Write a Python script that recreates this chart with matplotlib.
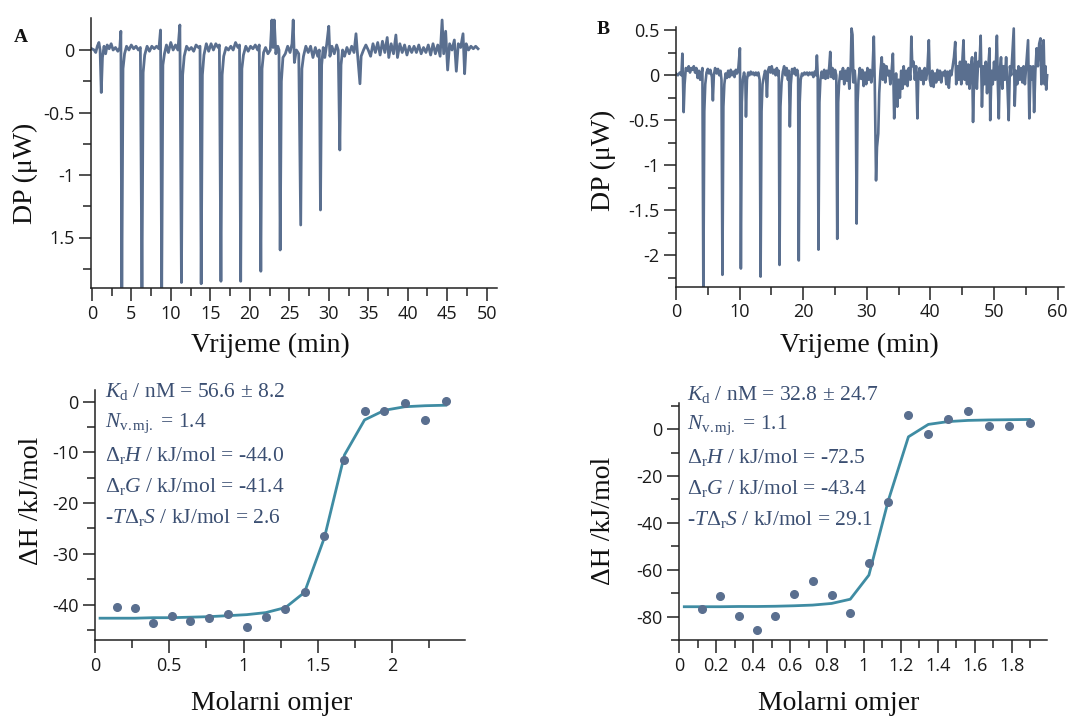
## ITC figure: raw thermograms (top) and integrated heats with fit (bottom)

import numpy as np
import matplotlib
matplotlib.use('Agg')
import matplotlib.pyplot as plt
from matplotlib.ticker import MultipleLocator

plt.rcParams['font.family'] = ['Open Sans', 'DejaVu Sans']
plt.rcParams['axes.unicode_minus'] = False
plt.rcParams['mathtext.fontset'] = 'custom'
plt.rcParams['mathtext.rm'] = 'Liberation Serif'
plt.rcParams['mathtext.it'] = 'Liberation Serif:italic'
plt.rcParams['mathtext.bf'] = 'Liberation Serif:bold'

## raw trace A (time in min, DP in uW)
trace_a = [
    (0.0, 0.01), (0.3, 0.0), (0.5, -0.02), (0.7, 0.03), (0.9, 0.06), (1.05, 0.0), (1.2, -0.34),
    (1.35, -0.06), (1.55, 0.03), (1.75, -0.03), (1.95, 0.04), (2.2, 0.01), (2.45, 0.05), (2.7, 0.0),
    (3.0, 0.02), (3.3, -0.01), (3.55, 0.02), (3.68, 0.15),
    (3.8, -1.95), (3.95, -0.15), (4.15, -0.03), (4.4, 0.03), (4.7, 0.0), (5.0, 0.04), (5.3, 0.01),
    (5.6, 0.03), (5.9, 0.0), (6.15, 0.02),
    (6.35, -1.95), (6.5, -0.18), (6.7, -0.04), (7.0, 0.03), (7.3, -0.01), (7.6, 0.03), (7.9, 0.01),
    (8.2, 0.03), (8.5, 0.01), (8.7, 0.16),
    (8.85, -1.95), (9.0, -0.12), (9.2, -0.03), (9.45, 0.04), (9.7, -0.02), (10.0, 0.06), (10.3, 0.0),
    (10.6, 0.04), (10.9, 0.0), (11.15, 0.2),
    (11.35, -1.86), (11.5, -0.2), (11.7, -0.05), (12.0, 0.03), (12.3, 0.0), (12.6, 0.02), (12.9, -0.01),
    (13.2, 0.04), (13.5, 0.02), (13.7, 0.03),
    (13.85, -1.87), (14.0, -0.2), (14.2, -0.04), (14.5, 0.05), (14.8, -0.01), (15.1, 0.05), (15.4, 0.0),
    (15.7, 0.05), (16.0, 0.02), (16.15, 0.04),
    (16.35, -1.85), (16.5, -0.2), (16.7, -0.05), (17.0, 0.02), (17.3, 0.0), (17.6, 0.03), (17.9, 0.0),
    (18.2, 0.06), (18.5, 0.02), (18.7, 0.04),
    (18.85, -1.85), (19.0, -0.15), (19.2, -0.04), (19.5, 0.03), (19.8, -0.01), (20.1, 0.03), (20.4, 0.01),
    (20.7, 0.04), (21.0, 0.0), (21.2, 0.04),
    (21.4, -1.77), (21.55, -0.15), (21.75, -0.02), (22.0, 0.02), (22.3, -0.03), (22.6, 0.0), (22.8, 0.24),
    (22.95, 0.02), (23.1, 0.24), (23.3, -0.03), (23.55, 0.03), (23.7, 0.0),
    (23.85, -1.6), (24.0, -0.25), (24.2, -0.06), (24.5, -0.03), (24.8, 0.03), (25.1, -0.02), (25.35, 0.05),
    (25.5, 0.24), (25.65, -0.1), (25.9, 0.0), (26.2, -0.03),
    (26.45, -1.4), (26.6, -0.15), (26.8, -0.05), (27.1, 0.03), (27.4, -0.02), (27.7, 0.03), (28.0, -0.06),
    (28.3, 0.02), (28.6, -0.05), (28.8, 0.0),
    (28.95, -1.28), (29.1, -0.12), (29.3, 0.02), (29.5, -0.06), (29.75, 0.05), (30.0, 0.19), (30.15, -0.05),
    (30.4, 0.03), (30.7, -0.03), (31.0, 0.04), (31.2, 0.0),
    (31.4, -0.8), (31.55, -0.12), (31.75, 0.0), (32.0, -0.05), (32.3, 0.02), (32.6, -0.03), (32.9, 0.03),
    (33.2, -0.02), (33.45, 0.13), (33.6, 0.0),
    (33.95, -0.27), (34.1, -0.05), (34.4, 0.0), (34.7, 0.04), (35.0, 0.0), (35.3, -0.05), (35.6, 0.05),
    (35.9, -0.02), (36.2, 0.06), (36.5, -0.04), (36.8, 0.07), (37.1, -0.02), (37.4, 0.1), (37.6, -0.06),
    (37.9, 0.05), (38.2, -0.03), (38.5, 0.12), (38.7, -0.06), (39.0, 0.05), (39.3, -0.02), (39.6, 0.04),
    (39.9, -0.04), (40.2, 0.03), (40.5, -0.02), (40.8, 0.03), (41.1, -0.02), (41.4, 0.04), (41.7, -0.03),
    (42.0, 0.02), (42.3, -0.02), (42.6, 0.04), (42.9, -0.04), (43.2, 0.05), (43.5, -0.03), (43.8, 0.04),
    (44.1, -0.05), (44.35, 0.24), (44.55, -0.03), (44.8, 0.15), (45.05, -0.16), (45.3, 0.05), (45.6, 0.0),
    (45.9, 0.08), (46.15, -0.17), (46.4, 0.05), (46.7, 0.02), (47.0, 0.13), (47.2, -0.19), (47.4, 0.05),
    (47.7, 0.0), (48.0, 0.03), (48.3, 0.01), (48.6, 0.03), (48.9, 0.01),
]

## raw trace B
trace_b = [
    (0.0, 0.02), (0.3, 0.0), (0.6, 0.03), (0.85, 0.0), (1.0, 0.24), (1.1, -0.05), (1.2, -0.41),
    (1.35, -0.1), (1.55, 0.08), (1.8, 0.05), (2.0, 0.1), (2.2, 0.03), (2.4, 0.08), (2.6, 0.06),
    (2.8, 0.1), (3.0, 0.03), (3.2, 0.08), (3.4, -0.03), (3.6, 0.05), (3.8, -0.05), (4.0, 0.02), (4.15, 0.08),
    (4.3, -2.4), (4.45, -0.4), (4.6, -0.1), (4.8, 0.03), (5.0, 0.07), (5.2, 0.02), (5.4, 0.06),
    (5.65, -0.02), (5.8, -0.28), (5.95, 0.0), (6.15, 0.08), (6.4, 0.02), (6.6, 0.07), (6.8, 0.0),
    (7.0, 0.05), (7.15, -0.05),
    (7.3, -2.22), (7.45, -0.35), (7.6, -0.1), (7.8, 0.02), (8.0, -0.03), (8.2, 0.05), (8.4, -0.02),
    (8.6, 0.06), (8.8, 0.0), (9.0, 0.04), (9.2, -0.02), (9.4, 0.06), (9.6, 0.02), (9.8, 0.08), (10.05, 0.3),
    (10.2, -2.15), (10.35, -0.3), (10.5, -0.05), (10.7, 0.03), (10.9, -0.05), (11.0, -0.46), (11.15, -0.05),
    (11.35, 0.03), (11.55, 0.0), (11.75, 0.04), (11.95, 0.01), (12.15, 0.03), (12.35, 0.0), (12.55, 0.03),
    (12.75, 0.0), (12.95, 0.03), (13.15, -0.05),
    (13.3, -2.24), (13.45, -0.4), (13.6, -0.1), (13.8, -0.02), (14.0, 0.05), (14.15, 0.0), (14.3, -0.24),
    (14.45, 0.05), (14.65, 0.09), (14.85, 0.03), (15.05, 0.1), (15.25, 0.02), (15.45, 0.06), (15.65, 0.0),
    (15.85, 0.08), (16.05, 0.0), (16.15, 0.05),
    (16.28, -2.11), (16.42, -0.35), (16.6, -0.08), (16.8, 0.04), (17.0, 0.1), (17.2, 0.0), (17.4, 0.08),
    (17.6, -0.05), (17.75, 0.05), (17.9, -0.57), (18.05, -0.1), (18.25, 0.07), (18.45, 0.02), (18.65, 0.08),
    (18.85, 0.0), (19.05, 0.06), (19.2, 0.0),
    (19.3, -2.06), (19.45, -0.3), (19.6, -0.05), (19.8, 0.02), (20.0, 0.0), (20.2, 0.03), (20.4, 0.01),
    (20.6, 0.03), (20.8, 0.0), (21.0, 0.03), (21.2, 0.01), (21.4, 0.03), (21.6, -0.02), (21.8, 0.04),
    (22.0, 0.0), (22.15, 0.22), (22.28, 0.0),
    (22.4, -1.94), (22.55, -0.3), (22.7, -0.05), (22.9, 0.04), (23.1, -0.03), (23.3, 0.06), (23.5, -0.04),
    (23.7, 0.05), (23.9, -0.03), (24.1, 0.1), (24.25, 0.26), (24.4, -0.02), (24.6, 0.08), (24.8, -0.04),
    (25.0, 0.06), (25.2, 0.0),
    (25.35, -1.82), (25.5, -0.3), (25.65, -0.08), (25.85, 0.04), (26.05, -0.04), (26.25, 0.08),
    (26.45, -0.1), (26.65, 0.05), (26.85, -0.06), (27.05, 0.08), (27.25, -0.15), (27.45, 0.05),
    (27.6, 0.52), (27.75, 0.45), (27.9, -0.08), (28.1, 0.05), (28.25, -0.1),
    (28.4, -1.65), (28.55, -0.3), (28.7, -0.05), (28.9, 0.08), (29.1, -0.04), (29.3, 0.06), (29.5, -0.12),
    (29.7, 0.03), (29.9, -0.1), (30.1, 0.08), (30.3, -0.05), (30.5, 0.06), (30.7, -0.08), (30.9, 0.05),
    (31.1, 0.43), (31.25, -0.1),
    (31.45, -1.17), (31.6, -0.8), (31.8, -0.65), (31.95, -0.2), (32.15, 0.05), (32.35, 0.2), (32.5, -0.05),
    (32.7, 0.12), (32.9, -0.08), (33.1, 0.1), (33.3, 0.0), (33.5, 0.05), (33.7, -0.1), (33.9, 0.05),
    (34.1, 0.24), (34.3, -0.48), (34.45, -0.2), (34.6, 0.02), (34.8, -0.35), (35.0, -0.05), (35.2, -0.25),
    (35.4, 0.05), (35.6, -0.15), (35.8, 0.1), (36.0, -0.1), (36.2, 0.05), (36.4, -0.12), (36.6, 0.08),
    (36.85, -0.05), (37.0, 0.43), (37.15, 0.1), (37.35, 0.15), (37.55, -0.05), (37.75, 0.1), (37.95, -0.48),
    (38.1, 0.0), (38.3, 0.08), (38.5, -0.05), (38.7, 0.05), (38.9, -0.1), (39.1, 0.08), (39.3, -0.05),
    (39.5, 0.03), (39.75, 0.39), (39.9, -0.05), (40.1, -0.12), (40.3, 0.05), (40.5, -0.13), (40.7, 0.02),
    (40.9, -0.08), (41.1, 0.06), (41.3, -0.05), (41.5, 0.05), (41.7, -0.08), (41.9, 0.03), (42.1, 0.0),
    (42.3, 0.05), (42.5, -0.1), (42.7, 0.04), (42.9, -0.14), (43.1, 0.05), (43.3, 0.0), (43.5, 0.1),
    (43.7, 0.2), (43.9, 0.37), (44.05, -0.1), (44.25, 0.1), (44.45, -0.05), (44.65, 0.15), (44.85, -0.1),
    (45.05, 0.2), (45.2, 0.39), (45.35, -0.05), (45.55, 0.15), (45.75, -0.1), (45.95, 0.12), (46.15, -0.15),
    (46.35, 0.1), (46.55, 0.2), (46.7, -0.52), (46.9, 0.05), (47.1, 0.25), (47.3, -0.15), (47.5, 0.15),
    (47.7, 0.1), (47.9, 0.44), (48.1, -0.35), (48.3, 0.1), (48.5, -0.1), (48.7, 0.15), (48.9, -0.2),
    (49.1, 0.1), (49.3, 0.3), (49.4, -0.5), (49.6, 0.05), (49.8, -0.1), (50.0, 0.15), (50.2, -0.05),
    (50.45, 0.44), (50.6, -0.1), (50.75, -0.48), (50.9, 0.05), (51.1, 0.2), (51.3, -0.15), (51.5, 0.1),
    (51.7, -0.05), (51.9, 0.2), (52.1, -0.1), (52.3, -0.5), (52.5, 0.1), (52.7, 0.0), (52.9, 0.25),
    (53.1, 0.52), (53.25, -0.34), (53.45, 0.05), (53.65, -0.1), (53.85, 0.1), (54.05, -0.05), (54.25, 0.08),
    (54.45, -0.08), (54.65, 0.1), (54.85, -0.1), (55.1, 0.15), (55.35, 0.39), (55.55, -0.48), (55.75, 0.1),
    (55.95, -0.05), (56.15, 0.1), (56.3, -0.41), (56.5, 0.05), (56.7, 0.3), (56.9, 0.1), (57.1, 0.35),
    (57.3, 0.41), (57.45, -0.1), (57.6, 0.2), (57.8, 0.39), (57.95, -0.1), (58.1, 0.1), (58.2, -0.16),
    (58.35, 0.0),
]

## integrated heats A
ratio_a = [0.150, 0.269, 0.393, 0.516, 0.642, 0.765, 0.896, 1.021, 1.149, 1.282,
           1.410, 1.544, 1.679, 1.814, 1.948, 2.085, 2.222, 2.361]
heat_a = [-40.5, -40.7, -43.7, -42.2, -43.3, -42.7, -41.8, -44.5, -42.5, -40.9,
          -37.5, -26.4, -11.5, -1.8, -1.9, -0.2, -3.7, 0.07]
fit_x_a = [0.034] + ratio_a
fit_y_a = [-42.7, -42.7, -42.7, -42.6, -42.6, -42.5, -42.4, -42.2, -42.0, -41.6,
           -40.6, -37.6, -26.8, -10.5, -3.6, -1.7, -1.0, -0.8, -0.7]

## integrated heats B
ratio_b = [0.123, 0.222, 0.322, 0.421, 0.519, 0.620, 0.722, 0.825, 0.926, 1.027,
           1.132, 1.241, 1.349, 1.456, 1.564, 1.675, 1.785, 1.897]
heat_b = [-76.9, -71.2, -79.7, -85.7, -79.6, -70.2, -64.7, -70.6, -78.6, -57.0,
          -31.3, 5.8, -2.0, 4.5, 7.8, 1.3, 1.3, 2.7]
fit_x_b = [0.027] + ratio_b
fit_y_b = [-75.8, -75.8, -75.8, -75.7, -75.7, -75.6, -75.4, -75.1, -74.4, -72.6, -62.3,
           -30.5, -3.3, 2.0, 3.2, 3.7, 3.9, 4.0, 4.1]

notes_a = [r'$K_\mathrm{d}$ / nM = 56.6 $\pm$ 8.2', r'$N_\mathrm{v.mj.}$ = 1.4',
           r'$\Delta_\mathrm{r}H$ / kJ/mol = -44.0', r'$\Delta_\mathrm{r}G$ / kJ/mol = -41.4',
           r'-$T\Delta_\mathrm{r}S$ / kJ/mol = 2.6']
notes_b = [r'$K_\mathrm{d}$ / nM = 32.8 $\pm$ 24.7', r'$N_\mathrm{v.mj.}$ = 1.1',
           r'$\Delta_\mathrm{r}H$ / kJ/mol = -72.5', r'$\Delta_\mathrm{r}G$ / kJ/mol = -43.4',
           r'-$T\Delta_\mathrm{r}S$ / kJ/mol = 29.1']

W, H = 1070, 718
TRACE = '#5a6f8f'
FIT = '#3f8ca3'
NOTE = '#3b4f72'
SERIF = 'Liberation Serif'

fig = plt.figure(figsize=(W / 100, H / 100), dpi=100)

def px_axes(l, t, r, b):
    ax = fig.add_axes([l / W, 1 - b / H, (r - l) / W, (b - t) / H])
    for s in ('top', 'right'):
        ax.spines[s].set_visible(False)
    for s in ('left', 'bottom'):
        ax.spines[s].set_color('#222222')
        ax.spines[s].set_linewidth(1.1)
    ax.tick_params(which='major', length=9, width=1.1, color='#222222',
                   labelsize=13, labelcolor='#1a1a1a', pad=3)
    ax.tick_params(which='minor', length=6, width=1.1, color='#222222')
    ax.patch.set_alpha(0)
    return ax

def fig_text(x, y, s, **kw):
    fig.text(x / W, 1 - y / H, s, ha='center', va='center', family=SERIF, **kw)

## top A
ax = px_axes(91, 17.5, 497, 288)
t, v = np.array(trace_a).T
ax.plot(t, v, color=TRACE, lw=2.0, solid_joinstyle='round')
ax.set_xlim(-0.1, 51.3)
ax.set_ylim(-1.904, 0.26)
ax.xaxis.set_major_locator(MultipleLocator(5))
ax.xaxis.set_minor_locator(MultipleLocator(2.5))
ax.set_yticks([0, -0.5, -1, -1.5])
ax.set_yticklabels(['0', '-0.5', '-1', '1.5'])
ax.set_yticks([-0.25, -0.75, -1.25, -1.75], minor=True)

## top B
ax = px_axes(676, 26.7, 1064, 286.7)
t, v = np.array(trace_b).T
ax.plot(t, v, color=TRACE, lw=1.9, solid_joinstyle='round')
ax.set_xlim(0, 61)
ax.set_ylim(-2.352, 0.54)
ax.xaxis.set_major_locator(MultipleLocator(10))
ax.xaxis.set_minor_locator(MultipleLocator(5))
ax.set_yticks([0.5, 0, -0.5, -1, -1.5, -2])
ax.set_yticklabels(['0.5', '0', '-0.5', '-1', '-1.5', '-2'])
ax.set_yticks([0.25, -0.25, -0.75, -1.25, -1.75, -2.25], minor=True)

## bottom A
ax = px_axes(95, 390, 465, 640)
ax.plot(fit_x_a, fit_y_a, color=FIT, lw=2.0, zorder=2)
ax.plot(ratio_a, heat_a, 'o', color=TRACE, ms=5.5, zorder=3)
ax.set_xlim(0, 2.49)
ax.set_ylim(-47, 2.3)
ax.set_xticks([0, 0.5, 1, 1.5, 2])
ax.set_xticklabels(['0', '0.5', '1', '1.5', '2'])
ax.xaxis.set_minor_locator(MultipleLocator(0.25))
ax.set_yticks([0, -10, -20, -30, -40])
ax.set_yticks([-5, -15, -25, -35, -45], minor=True)
for i, s in enumerate(notes_a):
    fig.text(105 / W, 1 - (392 + i * 31.5) / H, s, ha='left', va='center',
             family=SERIF, fontsize=15.5, color=NOTE)

## bottom B
ax = px_axes(679.3, 403.3, 1046.7, 640)
ax.plot(fit_x_b, fit_y_b, color=FIT, lw=2.0, zorder=2)
ax.plot(ratio_b, heat_b, 'o', color=TRACE, ms=5.5, zorder=3)
ax.set_xlim(0, 1.99)
ax.set_ylim(-90, 11)
ax.set_xticks([0, 0.2, 0.4, 0.6, 0.8, 1, 1.2, 1.4, 1.6, 1.8])
ax.set_xticklabels(['0', '0.2', '0.4', '0.6', '0.8', '1', '1.2', '1.4', '1.6', '1.8'])
ax.xaxis.set_minor_locator(MultipleLocator(0.1))
ax.set_yticks([0, -20, -40, -60, -80])
ax.set_yticks([10, -10, -30, -50, -70, -90], minor=True)
for i, s in enumerate(notes_b):
    fig.text(687 / W, 1 - (394 + i * 31.5) / H, s, ha='left', va='center',
             family=SERIF, fontsize=15.5, color=NOTE)

## axis titles and panel letters
fig_text(270, 345, 'Vrijeme (min)', fontsize=20, color='#111111')
fig_text(859, 345, 'Vrijeme (min)', fontsize=20, color='#111111')
fig_text(25, 173, 'DP (μW)', fontsize=20, color='#111111', rotation=90)
fig_text(603, 160, 'DP (μW)', fontsize=20, color='#111111', rotation=90)
fig_text(272, 704, 'Molarni omjer', fontsize=20, color='#111111')
fig_text(839, 704, 'Molarni omjer', fontsize=20, color='#111111')
fig_text(32, 501, 'ΔH /kJ/mol', fontsize=20, color='#111111', rotation=90)
fig_text(604, 521, 'ΔH /kJ/mol', fontsize=20, color='#111111', rotation=90)
fig_text(21, 38, 'A', fontsize=14, fontweight='bold', color='#111111')
fig_text(603, 29, 'B', fontsize=14, fontweight='bold', color='#111111')

fig.savefig('out.png', dpi=100)
